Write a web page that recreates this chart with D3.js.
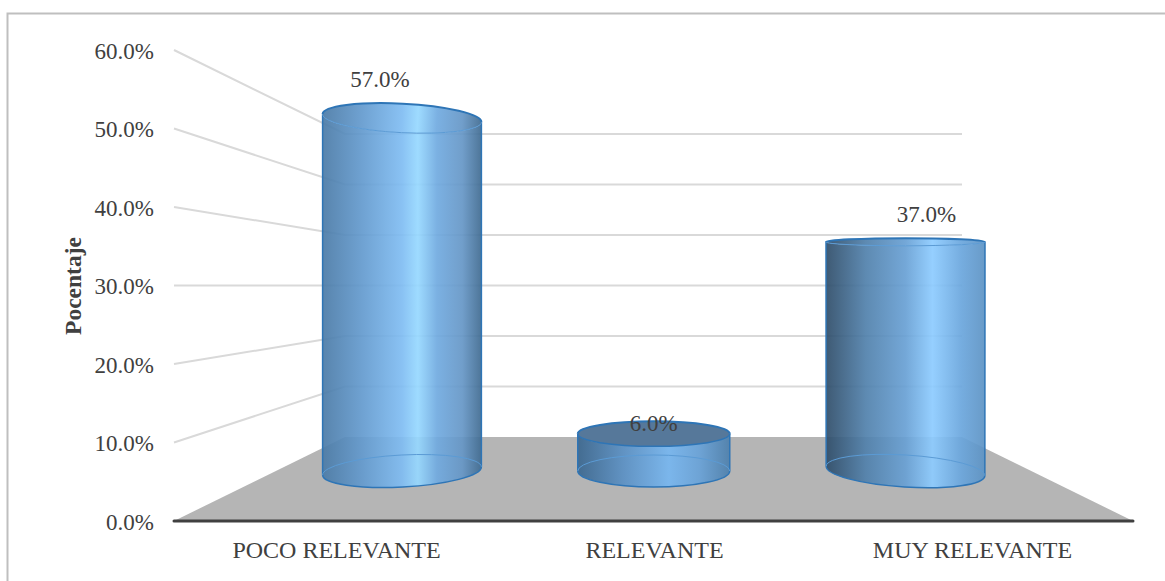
<!DOCTYPE html>
<html><head><meta charset="utf-8">
<script src="https://cdn.jsdelivr.net/npm/d3@7"></script>
<style>html,body{margin:0;padding:0;background:#fff}svg{display:block}text{font-family:"Liberation Serif",serif;fill:#404040}</style>
</head><body><svg id="c" width="1165" height="581"></svg>
<script>
const categories = ["POCO RELEVANTE","RELEVANTE","MUY RELEVANTE"];
const values = [57.0,6.0,37.0];
const tickValues = [0,10,20,30,40,50,60];
const yTitle = "Pocentaje";

// perspective geometry of each cylinder (not data)
const radiusX = [79.5,76,79.5];
const topRy = [14.5,12.5,3.8], topTilt = [2.9,0,0];
const baseRy = [16,16,16], baseTilt = [-3,0,3.5];
const labelDx = [-22,0,21], labelY = [87,431,222];
// gradient stops: [offset, colour]
const grads = [
 [[0,"#4a7aa6"],[.25,"#639ace"],[.5,"#7fbcf2"],[.6,"#96d8ff"],[.72,"#70aae0"],[.88,"#6596c6"],[1,"#3f6a90"]],
 [[0,"#3a668e"],[.3,"#5a90c4"],[.6,"#76b6f0"],[.8,"#68a2d8"],[1,"#4c7fac"]],
 [[0,"#2e4c68"],[.25,"#5080ab"],[.5,"#68a0d4"],[.67,"#8ccbff"],[.85,"#6aa6dd"],[1,"#5c92c3"]]
];

const svg = d3.select("#c");
const yFront = d3.scaleLinear().domain([0,60]).range([521,50]);
const yBack = d3.scaleLinear().domain([0,60]).range([437,134]);
const yBar = d3.scaleLinear().domain([0,60]).range([471,99.6]);
const xBar = d3.scalePoint().domain(categories).range([402,905.5]);
const xLabel = d3.scalePoint().domain(categories).range([336,972]);
const wall = {front:174, back:345, backR:962, frontR:1133};

svg.append("rect").attr("x",7.5).attr("y",13.5).attr("width",1170).attr("height",580)
  .attr("fill","#fff").attr("stroke","#bfbfbf").attr("stroke-width",2);

const defs = svg.append("defs");
grads.forEach((g,i)=>{
  const lg = defs.append("linearGradient").attr("id","g"+i).attr("x1",0).attr("x2",1).attr("y1",0).attr("y2",0);
  g.forEach(s=>lg.append("stop").attr("offset",s[0]).attr("stop-color",s[1]));
});

// walls
const grid = svg.append("g").attr("stroke","#d9d9d9").attr("stroke-width",2).attr("fill","none");
tickValues.filter(t=>t>0).forEach(t=>{
  grid.append("path").attr("d",d3.line()([[wall.front,yFront(t)],[wall.back,yBack(t)],[wall.backR,yBack(t)]]));
});
// floor
svg.append("path").attr("fill","#b5b5b5")
  .attr("d",d3.line()([[wall.front,yFront(0)],[wall.back,yBack(0)],[wall.backR,yBack(0)],[wall.frontR,yFront(0)]])+"Z");
svg.append("line").attr("x1",wall.front).attr("x2",wall.frontR).attr("y1",yFront(0)).attr("y2",yFront(0))
  .attr("stroke","#404040").attr("stroke-width",3).attr("stroke-linecap","round");

// cylinders
function ends(cx,cy,rx,tilt){const a=tilt*Math.PI/180;return {lx:cx-rx*Math.cos(a),ly:cy-rx*Math.sin(a),rx_:cx+rx*Math.cos(a),ry_:cy+rx*Math.sin(a)};}
values.forEach((v,i)=>{
  const cx=xBar(categories[i]), rx=radiusX[i], ty=yBar(v), by=yBar(0);
  const T=ends(cx,ty,rx,topTilt[i]), B=ends(cx,by,rx,baseTilt[i]);
  const g=svg.append("g");
  const arcTo=(ry,t,sw,x,y)=>`A${rx},${ry} ${t} 0 ${sw} ${x},${y}`;
  // body
  g.append("path").attr("d",`M${T.lx},${T.ly}L${B.lx},${B.ly}${arcTo(baseRy[i],baseTilt[i],0,B.rx_,B.ry_)}L${T.rx_},${T.ry_}${arcTo(topRy[i],topTilt[i],1,T.lx,T.ly)}Z`)
    .attr("fill",`url(#g${i})`).attr("fill-opacity",.92).attr("stroke","none");
  // body edges
  g.append("path").attr("d",`M${T.lx},${T.ly}L${B.lx},${B.ly}${arcTo(baseRy[i],baseTilt[i],0,B.rx_,B.ry_)}L${T.rx_},${T.ry_}`)
    .attr("fill","none").attr("stroke","#2e75b6").attr("stroke-width",1.5);
  // base back rim
  g.append("path").attr("d",`M${B.lx},${B.ly}${arcTo(baseRy[i],baseTilt[i],1,B.rx_,B.ry_)}`)
    .attr("fill","none").attr("stroke","#5b9bd5").attr("stroke-width",1);
  // top cap
  g.append("ellipse").attr("cx",cx).attr("cy",ty).attr("rx",rx).attr("ry",topRy[i])
    .attr("transform",`rotate(${topTilt[i]} ${cx} ${ty})`)
    .attr("fill",i===1?"#56789a":`url(#g${i})`).attr("fill-opacity",i===1?1:.92);
  // cap rims: dark back, lighter front on the tall cylinders
  g.append("path").attr("d",`M${T.lx},${T.ly}${arcTo(topRy[i],topTilt[i],1,T.rx_,T.ry_)}`)
    .attr("fill","none").attr("stroke","#2e75b6").attr("stroke-width",2);
  g.append("path").attr("d",`M${T.lx},${T.ly}${arcTo(topRy[i],topTilt[i],0,T.rx_,T.ry_)}`)
    .attr("fill","none").attr("stroke",i===1?"#2e75b6":"#5b9bd5").attr("stroke-width",i===1?1.5:1);
});

// axes
const axis = d3.axisLeft(yFront).tickValues(tickValues).tickSize(0).tickPadding(0)
  .tickFormat(d=>d3.format(".1f")(d)+"%");
const ax = svg.append("g").attr("transform","translate(154,1)").call(axis);
ax.select(".domain").remove();
ax.selectAll("text").style("font-size","23px").attr("dy","0.32em");

const ax2 = d3.axisBottom(xLabel).tickSize(0).tickPadding(0);
const bx = svg.append("g").attr("transform","translate(0,542)").call(ax2);
bx.select(".domain").remove();
bx.selectAll("text").style("font-size","24px").attr("dy","0.68em");

svg.append("text").attr("transform","translate(81,286) rotate(-90)").attr("text-anchor","middle")
  .style("font-size","23.5px").style("font-weight","bold").text(yTitle);

svg.selectAll(".dl").data(values).join("text").attr("class","dl")
  .attr("text-anchor","middle").style("font-size","23px")
  .attr("x",(d,i)=>xBar(categories[i])+labelDx[i]).attr("y",(d,i)=>labelY[i])
  .text(d=>d3.format(".1f")(d)+"%");
</script></body></html>
